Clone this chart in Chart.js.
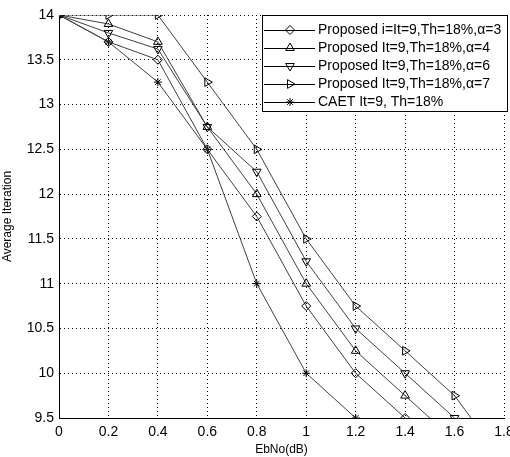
<!DOCTYPE html>
<html lang="en">
<head>
<meta charset="UTF-8">
<title>Average Iteration vs EbNo</title>
<script src="https://cdn.jsdelivr.net/npm/chart.js"></script>
<style>
  html, body { margin: 0; padding: 0; background: #fff; }
  #wrap { width: 510px; height: 457px; }
</style>
</head>
<body>
<div id="wrap"><canvas id="c" width="510" height="457"></canvas></div>
<script>
// data
var ebno = [0, 0.2, 0.4, 0.6, 0.8, 1.0, 1.2, 1.4, 1.6, 1.8];
var alpha3 = [14, 13.7, 13.5, 12.5, 11.75, 10.75, 10.0, 9.5];
var alpha4 = [14, 13.9, 13.7, 12.75, 12.0, 11.0, 10.25, 9.75, 9.25];
var alpha6 = [14, 13.8, 13.62, 12.75, 12.25, 11.25, 10.5, 10.0, 9.5];
var alpha7 = [14, 14, 14, 13.25, 12.5, 11.5, 10.75, 10.25, 9.75, 9.0];
var caet = [14, 13.7, 13.25, 12.5, 11.0, 10.0, 9.5];

var seriesLabels = [
  'Proposed i=It=9,Th=18%,\u03b1=3',
  'Proposed It=9,Th=18%,\u03b1=4',
  'Proposed It=9,Th=18%,\u03b1=6',
  'Proposed It=9,Th=18%,\u03b1=7',
  'CAET It=9, Th=18%'
];

function pts(arr) {
  return arr.map(function(v, i) { return { x: ebno[i], y: v }; });
}

var LINE = '#404040';
var FONT = '"Liberation Sans", Arial, sans-serif';
var styles = [
  { style: 'rectRot', rot: 0, r: 4.5 },
  { style: 'triangle', rot: 0, r: 5 },
  { style: 'triangle', rot: 180, r: 5 },
  { style: 'triangle', rot: 90, r: 5 },
  { style: 'star', rot: 0, r: 4 }
];
var values = [alpha3, alpha4, alpha6, alpha7, caet];

var datasets = values.map(function(v, i) {
  return {
    label: seriesLabels[i],
    data: pts(v),
    borderColor: LINE,
    borderWidth: 1,
    pointStyle: styles[i].style,
    rotation: styles[i].rot,
    pointRadius: styles[i].r,
    pointBorderColor: '#000',
    pointBorderWidth: 1,
    pointBackgroundColor: 'rgba(0,0,0,0)',
    fill: false,
    tension: 0
  };
});

// legend box drawn inside the plot, like the original figure
var boxLegend = {
  id: 'boxLegend',
  afterDraw: function(chart) {
    var ctx = chart.ctx;
    var x0 = 262, y0 = 15, w = 245, h = 96;
    ctx.save();
    ctx.fillStyle = '#fff';
    ctx.fillRect(x0, y0, w, h);
    ctx.strokeStyle = '#000';
    ctx.lineWidth = 1;
    ctx.strokeRect(x0 + 0.5, y0 + 0.5, w, h);
    ctx.font = '14px ' + FONT;
    ctx.textBaseline = 'middle';
    for (var i = 0; i < seriesLabels.length; i++) {
      var y = y0 + 15 + i * 18;
      ctx.strokeStyle = '#000';
      ctx.beginPath();
      ctx.moveTo(x0 + 2, y + 0.5);
      ctx.lineTo(x0 + 53, y + 0.5);
      ctx.stroke();
      ctx.fillStyle = 'rgba(0,0,0,0)';
      Chart.helpers.drawPoint(ctx, {
        pointStyle: styles[i].style,
        rotation: styles[i].rot,
        radius: styles[i].r,
        borderWidth: 1
      }, x0 + 28, y);
      ctx.fillStyle = '#000';
      ctx.fillText(seriesLabels[i], x0 + 56, y);
    }
    ctx.restore();
  }
};

function tickText(v) { return String(+v.toFixed(1)); }

new Chart(document.getElementById('c').getContext('2d'), {
  type: 'line',
  data: { datasets: datasets },
  options: {
    responsive: false,
    animation: false,
    layout: { padding: { top: 15, right: 4, left: 0, bottom: 0 } },
    plugins: { legend: { display: false }, tooltip: { enabled: false } },
    scales: {
      x: {
        type: 'linear',
        min: 0, max: 1.8,
        ticks: {
          stepSize: 0.2,
          color: '#000',
          font: { size: 14, family: FONT },
          padding: 6,
          callback: tickText
        },
        grid: { color: '#000', drawTicks: false, lineWidth: 1 },
        border: { display: true, color: '#000', width: 1, dash: [1, 3] },
        title: {
          display: true, text: 'EbNo(dB)', color: '#000', padding: 0,
          font: { size: 12, family: FONT }
        },
        afterFit: function(s) { s.height = 39; s.paddingLeft = 0; s.paddingRight = 0; }
      },
      y: {
        type: 'linear',
        min: 9.5, max: 14,
        ticks: {
          stepSize: 0.5,
          color: '#000',
          font: { size: 14, family: FONT },
          padding: 5,
          callback: tickText
        },
        grid: { color: '#000', drawTicks: false, lineWidth: 1 },
        border: { display: true, color: '#000', width: 1, dash: [1, 3] },
        title: {
          display: true, text: 'Average Iteration', color: '#000', padding: 0,
          font: { size: 12, family: FONT }
        },
        afterFit: function(s) { s.width = 59; s.paddingTop = 0; s.paddingBottom = 0; }
      }
    }
  },
  plugins: [boxLegend]
});
</script>
</body>
</html>
